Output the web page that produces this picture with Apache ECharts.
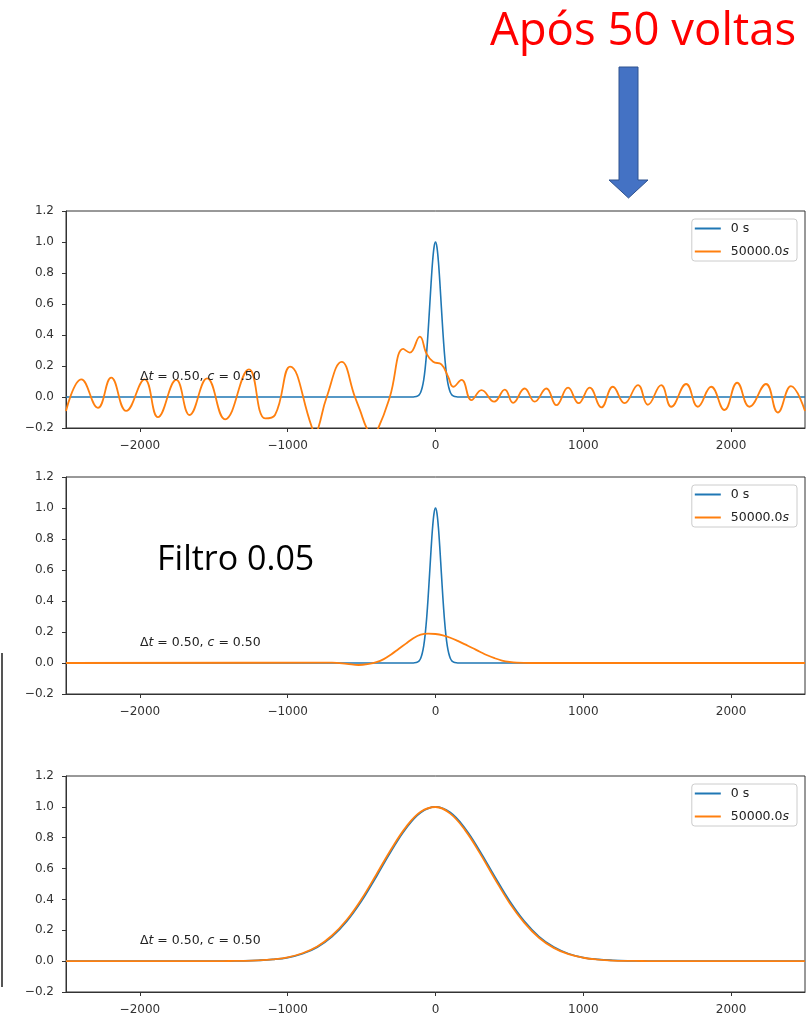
<!DOCTYPE html>
<html><head><meta charset="utf-8">
<script src="https://cdn.jsdelivr.net/npm/echarts@6/dist/echarts.min.js"></script>
<style>html,body{margin:0;padding:0;background:#fff}#c{width:811px;height:1020px}</style>
</head><body><div id="c"></div>
<script>
// ---------- data ----------
const seriesNames = ['0 s', '50000.0s'];
const xTicks = [-2000, -1000, 0, 1000, 2000];
const yTicks = [-0.2, 0, 0.2, 0.4, 0.6, 0.8, 1.0, 1.2];

// narrow initial pulse (panels 1 and 2)
const narrowX = [-2500, -150, -130, -120, -110, -100, -90, -80, -70, -60, -50, -40, -30, -20, -10, 0,
  10, 20, 30, 40, 50, 60, 70, 80, 90, 100, 110, 120, 130, 150, 2500];
const narrowY = [0, 0, 0.003, 0.007, 0.015, 0.031, 0.061, 0.109, 0.183, 0.287, 0.421, 0.575, 0.732, 0.871, 0.966, 1.0,
  0.966, 0.871, 0.732, 0.575, 0.421, 0.287, 0.183, 0.109, 0.061, 0.031, 0.015, 0.007, 0.003, 0, 0];

// panel 1: after 50 turns, no filter
const p1OrangeX = [-2500, -2396, -2284, -2194, -2093, -1968, -1878, -1754, -1664, -1545, -1424, -1262, -1153, -1086, -984,
  -838, -815, -793, -736, -635, -545, -511, -466, -430, -387, -309, -218, -174, -106, -61, -16, 40, 86, 120, 176,
  243, 311, 397, 469, 525, 603, 671, 750, 818, 897, 968, 1043, 1122, 1200, 1279, 1370, 1437, 1527, 1595, 1696,
  1775, 1865, 1955, 2041, 2124, 2236, 2316, 2405, 2500];
const p1OrangeY = [-0.09, 0.114, -0.07, 0.125, -0.09, 0.114, -0.13, 0.11, -0.116, 0.12, -0.144, 0.178, -0.138, -0.116, 0.196,
  -0.19, -0.24, -0.2, 0.0, 0.227, 0.0, -0.085, -0.2, -0.25, -0.2, 0.0, 0.31, 0.286, 0.39, 0.28, 0.227, 0.21, 0.13, 0.066, 0.11,
  -0.02, 0.045, -0.03, 0.048, -0.038, 0.055, -0.03, 0.055, -0.053, 0.06, -0.04, 0.06, -0.067, 0.066, -0.04, 0.077, -0.05, 0.077, -0.063, 0.084,
  -0.063, 0.066, -0.084, 0.092, -0.063, 0.084, -0.1, 0.07, -0.09];

// panel 2: filter 0.05
const p2OrangeX = [-2500, -700, -600, -520, -450, -400, -350, -300, -250, -200, -150, -100, -50, 0, 50, 100, 150, 200,
  250, 300, 350, 400, 450, 500, 550, 650, 2500];
const p2OrangeY = [0, 0.002, -0.005, -0.013, -0.006, 0.005, 0.025, 0.055, 0.09, 0.125, 0.16, 0.183, 0.19, 0.187, 0.178,
  0.163, 0.143, 0.12, 0.097, 0.073, 0.05, 0.031, 0.016, 0.007, 0.002, 0, 0];

// panel 3: wide pulse
const wideX = [-2500, -1500, -1400, -1300, -1200, -1100, -1000, -900, -800, -700, -600, -500, -400, -300, -200, -100, 0,
  100, 200, 300, 400, 500, 600, 700, 800, 900, 1000, 1100, 1200, 1300, 1400, 1500, 2500];
const p3BlueY = [0, 0, 0.001, 0.002, 0.005, 0.011, 0.023, 0.048, 0.091, 0.159, 0.259, 0.391, 0.549, 0.713, 0.860, 0.963, 1.0,
  0.963, 0.860, 0.713, 0.549, 0.391, 0.259, 0.159, 0.091, 0.048, 0.023, 0.011, 0.005, 0.002, 0.001, 0, 0];
const p3OrangeY = [0, 0, 0.001, 0.002, 0.005, 0.012, 0.025, 0.051, 0.095, 0.166, 0.268, 0.403, 0.562, 0.725, 0.869, 0.968, 0.999,
  0.956, 0.849, 0.700, 0.536, 0.379, 0.250, 0.152, 0.086, 0.045, 0.022, 0.010, 0.004, 0.002, 0.001, 0, 0];

// ---------- layout ----------
const gridTops = [211, 477, 776];
const gridH = [217, 217, 216];
const BLUE = '#1f77b4', ORANGE = '#ff7f0e';
const FONT = 'DejaVu Sans';
const zip = (xs, ys) => xs.map((x, i) => [x, ys[i]]);
const fmtMinus = v => (Math.abs(v) < 1e-9 ? '0' : String(v)).replace('-', '\u2212');

const grids = gridTops.map((t, i) => ({ left: 66, top: t, width: 739, height: gridH[i], show: true,
  borderColor: '#333', borderWidth: 1, backgroundColor: 'transparent' }));

const xAxes = gridTops.map((t, i) => ({
  type: 'value', gridIndex: i, min: -2500, max: 2500,
  axisLine: { show: true, onZero: false, lineStyle: { color: '#333', width: 1 } },
  axisTick: { show: true, customValues: xTicks, length: 4, lineStyle: { color: '#333' } },
  axisLabel: { customValues: xTicks, formatter: fmtMinus, color: '#333', fontFamily: FONT, fontSize: 12, margin: 12 },
  splitLine: { show: false }
}));
const yAxes = gridTops.map((t, i) => ({
  type: 'value', gridIndex: i, min: -0.2, max: 1.2,
  axisLine: { show: true, onZero: false, lineStyle: { color: '#333', width: 1 } },
  axisTick: { show: true, customValues: yTicks, length: 4, lineStyle: { color: '#333' } },
  axisLabel: { customValues: yTicks, formatter: v => (Math.abs(v) < 1e-9 ? '0.0' : v.toFixed(1)).replace('-', '\u2212'),
    color: '#333', fontFamily: FONT, fontSize: 12, margin: 12 },
  splitLine: { show: false }
}));

function line(name, data, gi, color, w, smooth) {
  return { type: 'line', name, xAxisIndex: gi, yAxisIndex: gi, data, showSymbol: false, symbol: 'none',
    smooth, clip: true, lineStyle: { color, width: w }, itemStyle: { color }, z: color === ORANGE ? 3 : 2 };
}
const series = [
  line(seriesNames[0], zip(narrowX, narrowY), 0, BLUE, 1.6, 0.3),
  line(seriesNames[1], zip(p1OrangeX, p1OrangeY), 0, ORANGE, 1.8, 0.45),
  line(seriesNames[0], zip(narrowX, narrowY), 1, BLUE, 1.6, 0.3),
  line(seriesNames[1], zip(p2OrangeX, p2OrangeY), 1, ORANGE, 1.8, 0.4),
  line(seriesNames[0], zip(wideX, p3BlueY), 2, BLUE, 1.8, 0.4),
  line(seriesNames[1], zip(wideX, p3OrangeY), 2, ORANGE, 1.8, 0.4)
];

const legends = gridTops.map(t => ({
  orient: 'vertical', right: 14, top: t + 8, data: seriesNames, icon: 'rect', itemWidth: 26, itemHeight: 2,
  itemGap: 10, padding: [3, 8, 3, 3], borderColor: '#ccc', borderWidth: 1, borderRadius: 3,
  backgroundColor: 'rgba(255,255,255,0.85)',
  formatter: n => n === '50000.0s' ? '50000.0{i|s}' : n,
  textStyle: { fontFamily: FONT, fontSize: 12.5, color: '#222', lineHeight: 13, padding: [0, 0, 0, 5],
    rich: { i: { fontFamily: FONT, fontSize: 12.5, fontStyle: 'italic', color: '#222', lineHeight: 13 } } }
}));

const chart = echarts.init(document.getElementById('c'), null, { renderer: 'canvas' });
chart.setOption({ animation: false, backgroundColor: '#fff', grid: grids, xAxis: xAxes, yAxis: yAxes,
  legend: legends, series });

// annotations anchored in data space
const annot = [0, 1, 2].map(gi => {
  const p = chart.convertToPixel({ gridIndex: gi }, [-2000, 0.13]);
  return { type: 'text', x: p[0], y: p[1], z: 10,
    style: { text: '{n|\u0394}{i|t}{n| = 0.50, }{i|c}{n| = 0.50}', verticalAlign: 'middle', align: 'left',
      rich: { n: { fontFamily: FONT, fontSize: 12.5, fill: '#222' },
              i: { fontFamily: FONT, fontSize: 12.5, fontStyle: 'italic', fill: '#222' } } } };
});

chart.setOption({ graphic: [
  { type: 'text', x: 490, y: 32, z: 10, style: { text: 'Após 50 voltas', fill: '#ff0000',
      fontFamily: 'Open Sans', fontSize: 45.5, verticalAlign: 'middle' } },
  { type: 'polygon', z: 10, shape: { points: [[619, 67], [638, 67], [638, 180], [648, 180], [628.5, 198], [609, 180], [619, 180]] },
    style: { fill: '#4472c4', stroke: '#2f528f', lineWidth: 1 } },
  { type: 'text', x: 157, y: 560, z: 10, style: { text: 'Filtro 0.05', fill: '#000',
      fontFamily: 'Open Sans', fontSize: 34, verticalAlign: 'middle' } },
  { type: 'line', z: 10, shape: { x1: 2, y1: 653, x2: 2, y2: 987 }, style: { stroke: '#555', lineWidth: 2 } },
  ...annot
] });
</script></body></html>
